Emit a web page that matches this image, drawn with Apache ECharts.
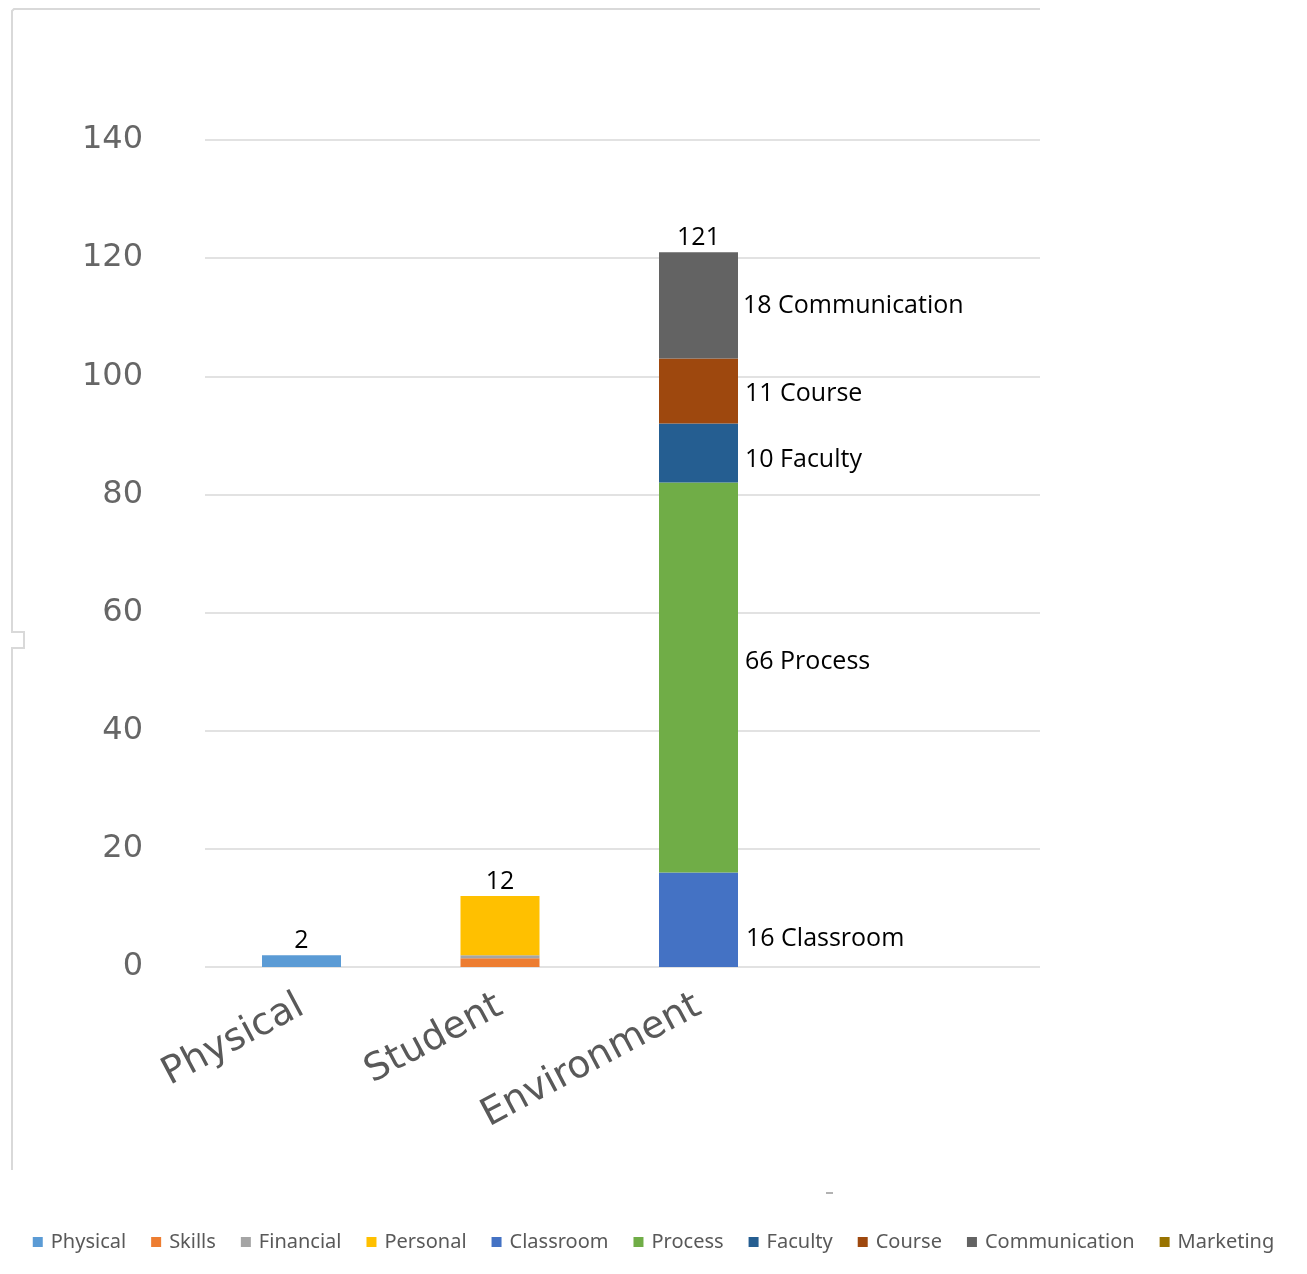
<!DOCTYPE html>
<html>
<head>
<meta charset="utf-8">
<script src="https://cdn.jsdelivr.net/npm/echarts@6/dist/echarts.min.js"></script>
<style>
html,body{margin:0;padding:0;background:#fff;}
#chart{width:1307px;height:1274px;}
</style>
</head>
<body>
<div id="chart"></div>
<script>
var categories = ['Physical', 'Student', 'Environment', ''];
var yTicks = [0, 20, 40, 60, 80, 100, 120, 140];
var physical = [2, '-', '-', '-'];
var skills = ['-', 1.5, '-', '-'];
var financial = ['-', 0.5, '-', '-'];
var personal = ['-', 10, '-', '-'];
var classroom = ['-', '-', 16, '-'];
var processV = ['-', '-', 66, '-'];
var faculty = ['-', '-', 10, '-'];
var course = ['-', '-', 11, '-'];
var communication = ['-', '-', 18, '-'];
var marketing = ['-', '-', '-', '-'];
var totals = [2, 12, 121];
var seriesNames = ['Physical', 'Skills', 'Financial', 'Personal', 'Classroom', 'Process', 'Faculty', 'Course', 'Communication', 'Marketing'];
var colors = ['#5B9BD5', '#ED7D31', '#A5A5A5', '#FFC000', '#4472C4', '#70AD47', '#255E91', '#9E480E', '#636363', '#997300'];

var chart = echarts.init(document.getElementById('chart'));

var dataList = [physical, skills, financial, personal, classroom, processV, faculty, course, communication, marketing];
var labelOffsets = {Classroom: [1, 19], Process: [0, -16], Faculty: [0, 7], Course: [0, 3], Communication: [-2, 0]};

var series = dataList.map(function (d, i) {
  var name = seriesNames[i];
  var s = {
    name: name,
    type: 'bar',
    stack: 'total',
    xAxisIndex: 1,
    yAxisIndex: 1,
    barWidth: 79,
    data: d,
    itemStyle: {color: colors[i]},
    emphasis: {disabled: true}
  };
  if (labelOffsets[name]) {
    s.label = {
      show: true,
      position: 'right',
      distance: 7,
      offset: labelOffsets[name],
      color: '#000',
      fontSize: 25,
      fontFamily: 'Open Sans',
      formatter: function (p) { return p.value + ' ' + p.seriesName; }
    };
  }
  return s;
});

series.push({
  name: 'Total',
  type: 'bar',
  stack: 'total',
  xAxisIndex: 1,
  yAxisIndex: 1,
  barWidth: 79,
  data: totals.map(function () { return 0; }),
  itemStyle: {color: 'transparent'},
  label: {
    show: true,
    position: 'top',
    distance: 2,
    offset: [0, 0],
    color: '#000',
    fontSize: 25,
    fontFamily: 'Open Sans',
    formatter: function (p) { return totals[p.dataIndex]; }
  }
});

var option = {
  animation: false,
  backgroundColor: '#fff',
  color: colors,
  grid: [
    {left: 205, right: 267, top: 140, bottom: 307},
    {left: 202.25, width: 794, top: 140, bottom: 307}
  ],
  xAxis: [
    {type: 'category', gridIndex: 0, data: [''], axisLine: {show: false}, axisTick: {show: false}, axisLabel: {show: false}},
    {type: 'category', gridIndex: 1, data: categories, axisLine: {show: false}, axisTick: {show: false},
      axisLabel: {rotate: 28, margin: 37, fontSize: 38, color: '#595959', fontFamily: 'DejaVu Sans', interval: 0}}
  ],
  yAxis: [
    {type: 'value', gridIndex: 0, min: yTicks[0], max: yTicks[yTicks.length - 1], interval: 20,
      axisLine: {show: false}, axisTick: {show: false},
      splitLine: {lineStyle: {color: '#d9d9d9', width: 1.5}},
      axisLabel: {margin: 62, fontSize: 32, color: '#666', fontFamily: 'DejaVu Sans'}},
    {type: 'value', gridIndex: 1, min: yTicks[0], max: yTicks[yTicks.length - 1], interval: 20,
      show: false, splitLine: {show: false}}
  ],
  legend: {
    data: seriesNames,
    bottom: 17,
    left: 'center',
    itemWidth: 10,
    itemHeight: 10,
    itemGap: 25,
    icon: 'rect',
    textStyle: {fontSize: 20, color: '#595959', fontFamily: 'Noto Sans', padding: [0, 0, 0, 3]}
  },
  graphic: [
    {type: 'polyline', silent: true, shape: {points: [[1040, 9], [14, 9], [12, 11], [12, 632], [24, 632], [24, 648], [12, 648], [12, 1170]]},
      style: {stroke: '#d9d9d9', lineWidth: 2, fill: null}},
    {type: 'line', silent: true, shape: {x1: 826, y1: 1193, x2: 833, y2: 1193}, style: {stroke: '#999', lineWidth: 1.5}}
  ],
  series: series
};
chart.setOption(option);
</script>
</body>
</html>
